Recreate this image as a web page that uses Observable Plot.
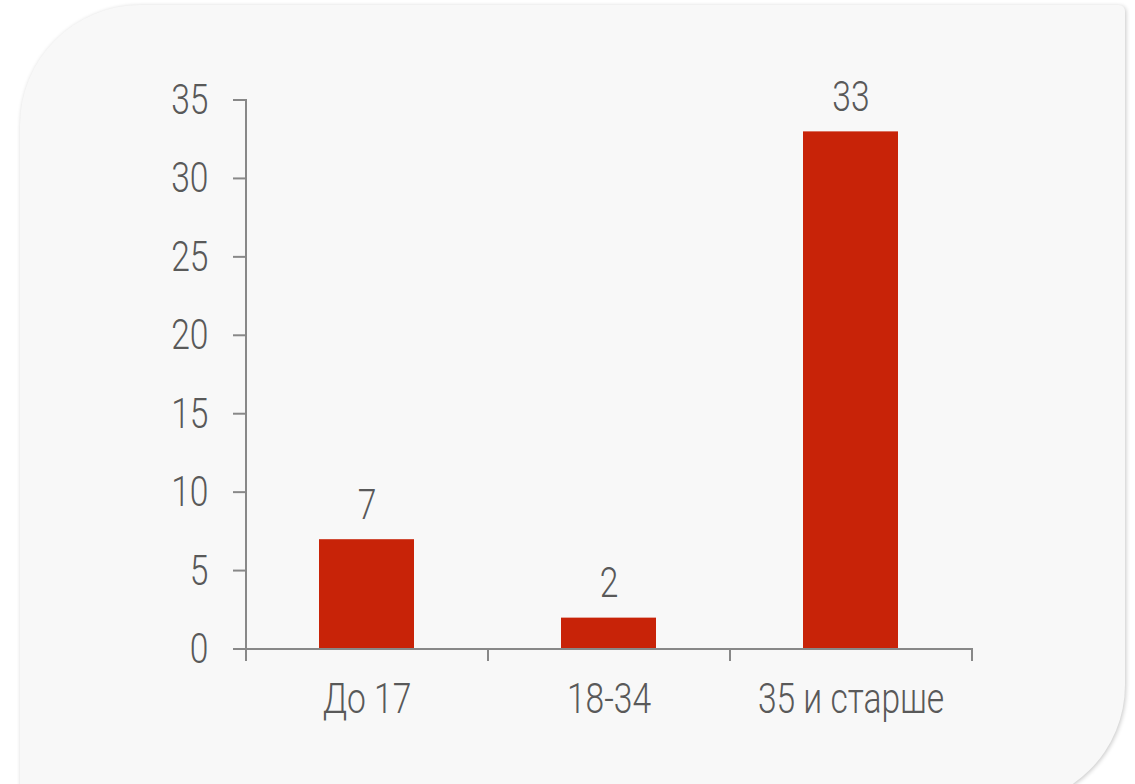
<!DOCTYPE html>
<html>
<head>
<meta charset="utf-8">
<script src="https://cdn.jsdelivr.net/npm/d3@7"></script>
<script src="https://cdn.jsdelivr.net/npm/@observablehq/plot@0.6"></script>
<style>
  html, body { margin: 0; padding: 0; background: #ffffff; overflow: hidden; }
  #wrap { position: relative; width: 1135px; height: 784px; }
  #panel {
    position: absolute; left: 20px; top: 5px; width: 1105px; height: 800px;
    background: #f8f8f8;
    border-radius: 120px 6px 120px 0;
    box-shadow: 1px 1px 4px rgba(0,0,0,0.22);
  }
  #chart { position: absolute; left: 0; top: 0; }
</style>
</head>
<body>
<div id="wrap"><div id="panel"></div><div id="chart"></div></div>
<script>
const categories = ["До 17", "18-34", "35 и старше"];
const values = [7, 2, 33];
const yTicks = [0, 5, 10, 15, 20, 25, 30, 35];

const data = categories.map((c, i) => ({category: c, value: values[i]}));

const W = 1135, H = 784;
const axisColor = "#888888";
const textColor = "#595959";
const textScaleX = 0.8;

function axesLines(index, scales, values, dims) {
  const g = d3.create("svg:g").attr("stroke", axisColor).attr("stroke-width", 2).attr("fill", "none");
  const y = scales.y;
  const left = dims.marginLeft;
  const right = dims.width - dims.marginRight;
  const step = (right - left) / categories.length;
  const y0 = y(0), yTop = y(yTicks[yTicks.length - 1]);
  // y axis line
  g.append("line").attr("x1", left).attr("x2", left).attr("y1", yTop - 1).attr("y2", y0);
  // y ticks
  for (const t of yTicks) {
    g.append("line").attr("x1", left - 13).attr("x2", left).attr("y1", y(t)).attr("y2", y(t));
  }
  // x axis line
  g.append("line").attr("x1", left - 13).attr("x2", right + 1).attr("y1", y0).attr("y2", y0);
  // category boundary ticks
  for (let k = 0; k <= categories.length; k++) {
    const xb = left + k * step;
    g.append("line").attr("x1", xb).attr("x2", xb).attr("y1", y0).attr("y2", y0 + 12);
  }
  return g.node();
}

const plot = Plot.plot({
  width: W,
  height: H,
  marginLeft: 246,
  marginRight: 163,
  marginTop: 100,
  marginBottom: 135,
  style: {
    fontFamily: "Roboto, 'DejaVu Sans', sans-serif",
    fontWeight: 300,
    fontSize: "42px",
    background: "transparent",
    overflow: "visible"
  },
  x: {domain: categories, paddingInner: 0.607, paddingOuter: 0.3035, align: 0.5, axis: null},
  y: {domain: [0, 35], axis: null},
  marks: [
    Plot.barY(data, {x: "category", y: "value", fill: "#c82308"}),
    Plot.axisY({ticks: yTicks, tickSize: 0, tickPadding: 38, fill: textColor, fontSize: 42, label: null}),
    Plot.axisX({tickSize: 0, tickPadding: 34, fill: textColor, fontSize: 42, label: null}),
    axesLines,
    Plot.text(data, {x: "category", y: "value", text: d => String(d.value), lineAnchor: "bottom", dy: -21, fill: textColor, fontSize: 42})
  ]
});

document.getElementById("chart").appendChild(plot);

// horizontally condense every text around its anchor point
plot.querySelectorAll("text").forEach(t => {
  const bb = t.getBBox();
  const anchor = getComputedStyle(t).textAnchor;
  const ax = anchor === "end" ? bb.x + bb.width : anchor === "middle" ? bb.x + bb.width / 2 : bb.x;
  const prev = t.getAttribute("transform") || "";
  t.setAttribute("transform", `${prev} translate(${ax},0) scale(${textScaleX},1) translate(${-ax},0)`);
});
</script>
</body>
</html>
